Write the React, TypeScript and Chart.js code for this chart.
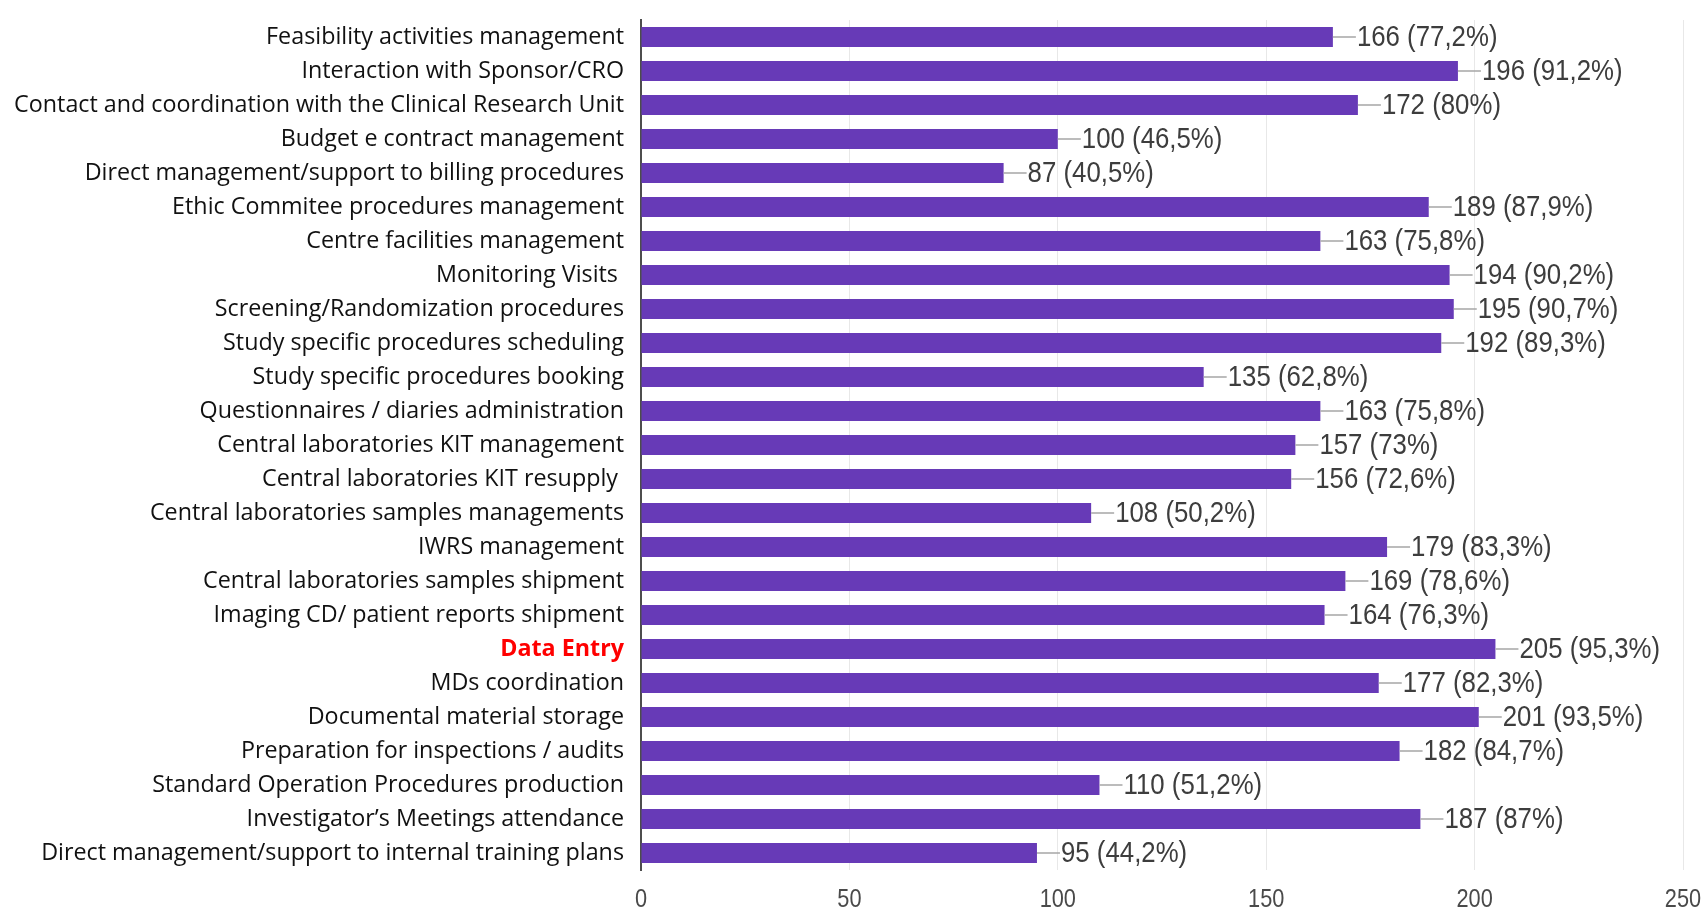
import React, { useEffect, useRef } from "react";
import { Chart, registerables } from "chart.js";

Chart.register(...registerables);

const categories: string[] = [
  "Feasibility activities management",
  "Interaction with Sponsor/CRO",
  "Contact and coordination with the Clinical Research Unit",
  "Budget e contract management",
  "Direct management/support to billing procedures",
  "Ethic Commitee procedures management",
  "Centre facilities management",
  "Monitoring Visits ",
  "Screening/Randomization procedures",
  "Study specific procedures scheduling",
  "Study specific procedures booking",
  "Questionnaires / diaries administration",
  "Central laboratories KIT management",
  "Central laboratories KIT resupply ",
  "Central laboratories samples managements",
  "IWRS management",
  "Central laboratories samples shipment",
  "Imaging CD/ patient reports shipment",
  "Data Entry",
  "MDs coordination",
  "Documental material storage",
  "Preparation for inspections / audits",
  "Standard Operation Procedures production",
  "Investigator’s Meetings attendance",
  "Direct management/support to internal training plans",
];

const counts: number[] = [
  166, 196, 172, 100, 87, 189, 163, 194, 195, 192, 135, 163, 157, 156, 108, 179, 169, 164, 205, 177, 201, 182, 110, 187, 95,
];

const percents: string[] = [
  "77,2%", "91,2%", "80%", "46,5%", "40,5%", "87,9%", "75,8%", "90,2%", "90,7%", "89,3%", "62,8%", "75,8%", "73%",
  "72,6%", "50,2%", "83,3%", "78,6%", "76,3%", "95,3%", "82,3%", "93,5%", "84,7%", "51,2%", "87%", "44,2%",
];

const highlighted: string[] = ["Data Entry"];

const xTicks: number[] = [0, 50, 100, 150, 200, 250];

const labelFont = "'Open Sans', 'Noto Sans', sans-serif";
const numFont = "'Liberation Sans', Arial, sans-serif";

function condensedText(ctx: any, text: string, x: number, y: number, align: string, sx: number) {
  ctx.save();
  ctx.translate(x, y);
  ctx.scale(sx, 1);
  ctx.textAlign = align;
  ctx.textBaseline = "middle";
  ctx.fillText(text, 0, 0);
  ctx.restore();
}

const valueLabelPlugin = {
  id: "valueLabels",
  afterDatasetsDraw(chart: any) {
    const ctx = chart.ctx;
    const meta = chart.getDatasetMeta(0);
    ctx.save();
    meta.data.forEach((bar: any, i: number) => {
      const x = bar.x;
      const y = bar.y;
      ctx.strokeStyle = "#a6a6a6";
      ctx.lineWidth = 1.5;
      ctx.beginPath();
      ctx.moveTo(x, y);
      ctx.lineTo(x + 23, y);
      ctx.stroke();
      ctx.fillStyle = "#3d3d3d";
      ctx.font = `29px ${numFont}`;
      condensedText(ctx, `${counts[i]} (${percents[i]})`, x + 24, y + 1, "left", 0.89);
    });
    ctx.restore();
  },
  afterDraw(chart: any) {
    const ctx = chart.ctx;
    const xs = chart.scales.x;
    ctx.save();
    ctx.fillStyle = "#4a4a4a";
    ctx.font = `25px ${numFont}`;
    xTicks.forEach((v) => {
      condensedText(ctx, String(v), xs.getPixelForValue(v), chart.chartArea.bottom + 30, "center", 0.87);
    });
    ctx.restore();
  },
};

const zeroPadding = (scale: any) => {
  scale.paddingTop = 0;
  scale.paddingBottom = 0;
  scale.paddingLeft = 0;
  scale.paddingRight = 0;
};

export default function App() {
  const canvasRef = useRef<HTMLCanvasElement | null>(null);

  useEffect(() => {
    document.body.style.margin = "0";
    const canvas = canvasRef.current;
    if (!canvas) return;
    const chart = new Chart(canvas, {
      type: "bar",
      data: {
        labels: categories,
        datasets: [
          {
            data: counts,
            backgroundColor: "#673ab7",
            borderWidth: 0,
            barPercentage: 0.59,
            categoryPercentage: 1,
          },
        ],
      },
      options: {
        indexAxis: "y",
        animation: false,
        responsive: false,
        maintainAspectRatio: false,
        layout: { padding: { top: 20, right: 24, bottom: 0, left: 0 } },
        plugins: {
          legend: { display: false },
          tooltip: { enabled: false },
        },
        scales: {
          x: {
            min: 0,
            max: 250,
            afterBuildTicks: (scale: any) => {
              scale.ticks = xTicks.map((v) => ({ value: v }));
            },
            afterFit: (scale: any) => {
              scale.height = 43;
              zeroPadding(scale);
            },
            grid: { color: "#e8e8e8", lineWidth: 1, drawTicks: false },
            border: { display: false },
            ticks: {
              color: "rgba(0,0,0,0)",
              font: { family: numFont, size: 25 },
              padding: 17,
            },
          },
          y: {
            afterFit: (scale: any) => {
              scale.width = 641;
              zeroPadding(scale);
            },
            grid: { display: false, drawTicks: false },
            border: { display: true, color: "#4d4d4d", width: 2 },
            ticks: {
              autoSkip: false,
              padding: 17,
              color: (ctx: any) => (highlighted.includes(categories[ctx.index]) ? "#ff0000" : "#111111"),
              font: (ctx: any) =>
                highlighted.includes(categories[ctx.index])
                  ? { family: labelFont, size: 23.3, weight: "bold" }
                  : { family: labelFont, size: 23.3 },
            },
          },
        },
      },
      plugins: [valueLabelPlugin],
    });
    return () => chart.destroy();
  }, []);

  return (
    <div style={{ width: 1707, height: 913 }}>
      <canvas ref={canvasRef} width={1707} height={913} style={{ display: "block" }} />
    </div>
  );
}
